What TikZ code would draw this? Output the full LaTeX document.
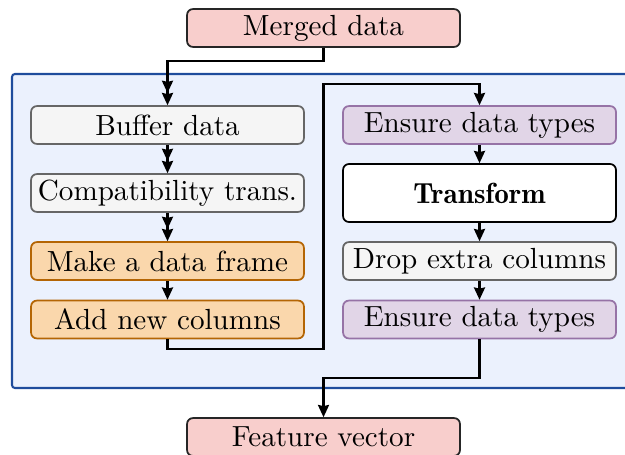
\documentclass[tikz,border=0pt]{standalone}
\usepackage{fontspec}
\newfontfamily\demifont{lmromandemi10-regular.otf}
\usetikzlibrary{arrows.meta,positioning}

\definecolor{redfill}{HTML}{F8CECC}
\definecolor{grayfill}{HTML}{F5F5F5}
\definecolor{graydraw}{HTML}{666666}
\definecolor{orangefill}{HTML}{FAD7AC}
\definecolor{orangedraw}{HTML}{B46504}
\definecolor{purplefill}{HTML}{E1D5E7}
\definecolor{purpledraw}{HTML}{9673A6}
\definecolor{groupfill}{HTML}{EBF1FD}
\definecolor{groupdraw}{HTML}{1F4C9C}

\tikzset{
  box/.style={rounded corners=2pt, line width=0.6pt, minimum width=93.7pt,
    minimum height=13pt, inner sep=0pt, font=\normalsize},
  iobox/.style={box, fill=redfill, draw=black!85},
  graybox/.style={box, fill=grayfill, draw=graydraw},
  orangebox/.style={box, fill=orangefill, draw=orangedraw},
  purplebox/.style={box, fill=purplefill, draw=purpledraw},
  mainbox/.style={box, fill=white, draw=black, minimum height=19.9pt, font=\demifont},
  tip/.tip={Stealth[length=4.2pt,width=3.8pt,inset=0.4pt]},
  flow/.style={line width=0.7pt, -tip},
  dflow/.style={line width=0.7pt, -{tip[sep=0pt]tip}},
}

\begin{document}
\begin{tikzpicture}[x=0.3434pt, y=-0.3434pt]
  \useasboundingbox (0,0) rectangle (625,454);

  % group background
  \draw[fill=groupfill, draw=groupdraw, line width=0.7pt, rounded corners=1pt]
    (12,74) rectangle (660,388);

  % nodes
  \node[iobox] (merged) at (323.5,28) {Merged data};
  \node[graybox] (buffer) at (167.5,125) {Buffer data};
  \node[graybox] (compat) at (167.5,193) {Compatibility trans.};
  \node[orangebox] (frame) at (167.5,261) {Make a data frame};
  \node[orangebox] (addcols) at (167.5,319.5) {Add new columns};

  \node[purplebox] (types1) at (479.5,125) {Ensure data types};
  \node[mainbox] (transform) at (479.5,193) {Transform};
  \node[graybox] (drop) at (479.5,261) {Drop extra columns};
  \node[purplebox] (types2) at (479.5,319.5) {Ensure data types};

  \node[iobox] (feature) at (323.5,437) {Feature vector};

  % routing points
  \coordinate (j1) at (0,61);
  \coordinate (j2a) at (0,349);
  \coordinate (j2b) at (323.5,84);
  \coordinate (j3) at (0,378);

  % connectors
  \draw[dflow] (merged.south) -- (merged.south |- j1) -| (buffer.north);
  \draw[dflow] (buffer) -- (compat);
  \draw[dflow] (compat) -- (frame);
  \draw[flow] (frame) -- (addcols);
  \draw[flow] (addcols.south) -- (addcols.south |- j2a) -| (j2b) -| (types1.north);
  \draw[flow] (types1) -- (transform);
  \draw[flow] (transform) -- (drop);
  \draw[flow] (drop) -- (types2);
  \draw[flow] (types2.south) -- (types2.south |- j3) -| (feature.north);
\end{tikzpicture}
\end{document}
